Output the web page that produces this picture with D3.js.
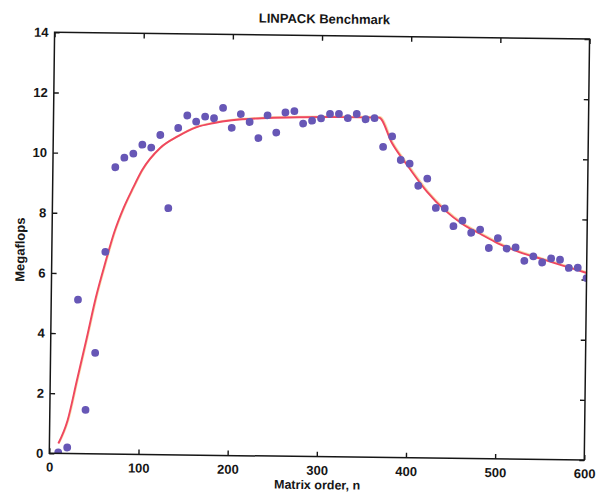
<!DOCTYPE html>
<html>
<head>
<meta charset="utf-8">
<script src="https://cdn.jsdelivr.net/npm/d3@7"></script>
<style>
  html, body { margin: 0; padding: 0; background: #fff; }
  svg { display: block; }
  text { font-family: "Liberation Sans", Arial, Helvetica, sans-serif; font-weight: bold; fill: #161616; }
</style>
</head>
<body>
<svg id="chart" width="605" height="493"></svg>
<script>
// ---- data ----
const matrixOrder = [10,20,30,40,50,60,70,80,90,100,110,120,130,140,150,160,170,180,190,200,
  210,220,230,240,250,260,270,280,290,300,310,320,330,340,350,360,370,380,390,400,
  410,420,430,440,450,460,470,480,490,500,510,520,530,540,550,560,570,580,590,600];
const megaflops = [0.03,0.2,5.12,1.46,3.36,6.72,9.54,9.86,10.0,10.3,10.21,10.63,8.2,10.87,11.29,11.09,11.26,11.21,11.56,10.9,
  11.36,11.1,10.57,11.33,10.76,11.43,11.48,11.07,11.17,11.25,11.4,11.41,11.27,11.41,11.24,11.28,10.33,10.68,9.9,9.78,
  9.05,9.29,8.32,8.31,7.72,7.91,7.51,7.62,7.01,7.34,7.0,7.04,6.6,6.75,6.55,6.69,6.65,6.38,6.39,6.05];
const fitOrder = [10,20,30,40,50,60,70,80,90,100,120,140,160,180,200,240,280,320,365,380,400,420,440,460,480,500,525,550,575,600];
const fitMflops = [0.33,1.1,2.45,3.8,5.2,6.35,7.4,8.2,8.85,9.45,10.2,10.6,10.9,11.05,11.15,11.24,11.28,11.3,11.3,10.45,9.62,8.85,8.25,7.8,7.48,7.17,6.88,6.66,6.44,6.22];
const xTicks = [0,100,200,300,400,500,600];
const yTicks = [0,2,4,6,8,10,12,14];
const titleText = "LINPACK Benchmark";
const xLabel = "Matrix order, n";
const yLabel = "Megaflops";

// ---- layout ----
const plot = { left: 49.3, top: 32.3, width: 535, height: 421 };
const bottom = plot.top + plot.height;
const tilt = 0.72; // the scanned page is slightly rotated

const svg = d3.select("#chart");
const root = svg.append("g").attr("transform", `rotate(${tilt},${plot.left},${bottom})`);

const x = d3.scaleLinear().domain([0, 600]).range([plot.left, plot.left + plot.width]);
const y = d3.scaleLinear().domain([0, 14]).range([bottom, plot.top]);

root.append("defs").append("clipPath").attr("id", "clip")
  .append("rect").attr("x", plot.left).attr("y", plot.top)
  .attr("width", plot.width).attr("height", plot.height);

// axes: ticks point inward on all four sides
const axisStyle = g => {
  g.select(".domain").remove();
  g.selectAll(".tick line").attr("stroke", "#161616").attr("stroke-width", 1.4);
  g.selectAll(".tick text").style("font-size", "13px").attr("fill", "#161616");
};
root.append("g").attr("transform", `translate(0,${bottom})`)
  .call(d3.axisBottom(x).tickValues(xTicks).tickSize(-5).tickPadding(9).tickFormat(d3.format("d")))
  .call(axisStyle);
root.append("g").attr("transform", `translate(0,${plot.top})`)
  .call(d3.axisTop(x).tickValues(xTicks).tickSize(-5).tickFormat(""))
  .call(axisStyle);
root.append("g").attr("transform", `translate(${plot.left},0)`)
  .call(d3.axisLeft(y).tickValues(yTicks).tickSize(-5).tickPadding(6).tickFormat(d3.format("d")))
  .call(axisStyle);
root.append("g").attr("transform", `translate(${plot.left + plot.width},0)`)
  .call(d3.axisRight(y).tickValues(yTicks).tickSize(-5).tickFormat(""))
  .call(axisStyle);

// fitted curve
const line = d3.line().x((d, i) => x(fitOrder[i])).y(d => y(d)).curve(d3.curveMonotoneX);
const marks = root.append("g").attr("clip-path", "url(#clip)");
marks.append("path").datum(fitMflops)
  .attr("d", line).attr("fill", "none")
  .attr("stroke", "#f4b860").attr("stroke-width", 2).attr("opacity", 0.55)
  .attr("transform", "translate(0.8,-0.6)");
marks.append("path").datum(fitMflops)
  .attr("d", line).attr("fill", "none")
  .attr("stroke", "#ef4760").attr("stroke-width", 1.9);

// measured points
marks.selectAll("circle").data(megaflops).join("circle")
  .attr("cx", (d, i) => x(matrixOrder[i]))
  .attr("cy", d => y(d))
  .attr("r", 3.9)
  .attr("fill", "#6757b6");

// frame
root.append("rect").attr("x", plot.left).attr("y", plot.top)
  .attr("width", plot.width).attr("height", plot.height)
  .attr("fill", "none").attr("stroke", "#161616").attr("stroke-width", 1.5);

// texts
root.append("text").attr("x", 319).attr("y", 20).attr("text-anchor", "middle")
  .style("font-size", "13px").text(titleText);
root.append("text").attr("x", 317.5).attr("y", 485.8).attr("text-anchor", "middle")
  .style("font-size", "12.5px").text(xLabel);
root.append("text").attr("transform", "translate(22,250) rotate(-90)").attr("text-anchor", "middle")
  .style("font-size", "13px").text(yLabel);
</script>
</body>
</html>
